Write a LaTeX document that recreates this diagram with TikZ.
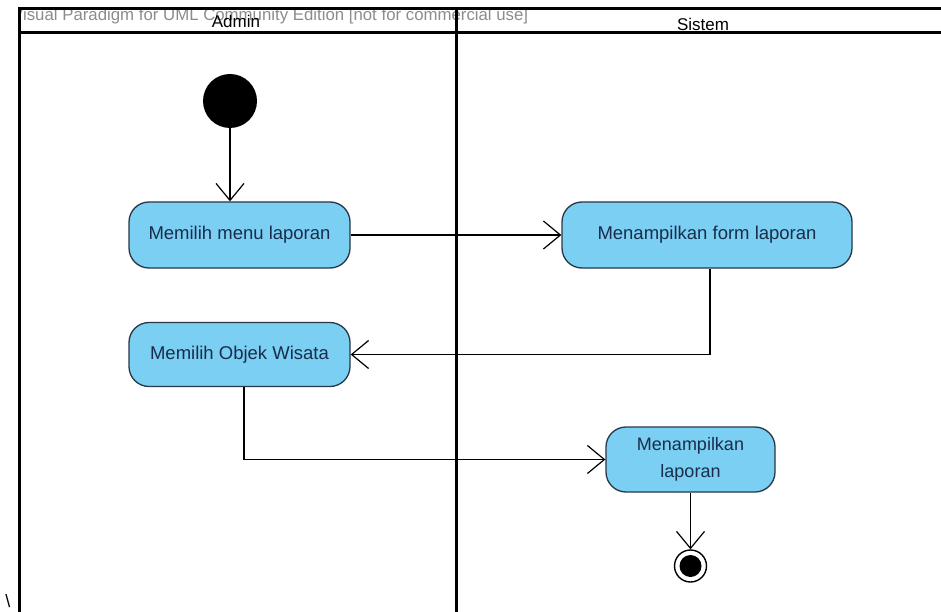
\documentclass[tikz,border=0pt]{standalone}
\usepackage{fontspec}
\setmainfont{Liberation Sans}
\usetikzlibrary{arrows.meta}
\definecolor{actfill}{RGB}{122,207,243}
\definecolor{actdraw}{RGB}{40,55,70}
\definecolor{acttext}{RGB}{25,45,75}
\definecolor{wmark}{RGB}{140,140,140}
\tikzset{
  act/.style={draw=actdraw, line width=1.3pt, fill=actfill, rounded corners=20pt,
    text=acttext, font=\fontsize{18.5}{22}\selectfont, inner sep=0pt, align=center},
  flow/.style={draw=black, line width=1.2pt, -{Straight Barb[length=17pt,width=28pt,line width=1.2pt]}},
  lane/.style={line width=3pt, draw=black},
}
\begin{document}
\begin{tikzpicture}[x=1pt,y=-1pt]
\useasboundingbox (0,0) rectangle (941,612);
% watermark
\begin{scope}
\clip (19,0) rectangle (941,40);
\node[anchor=base west, text=wmark, font=\fontsize{16.8}{19}\selectfont, inner sep=0pt] (wm) at (12,21) {Visual Paradigm for UML Community Edition [not for commercial use]};
\end{scope}
% swimlanes
\draw[lane] (19,612) -- (19,9) -- (941,9);
\draw[lane] (19,33) -- (941,33);
\draw[lane] (456,9) -- (456,612);
\node[font=\fontsize{17}{19}\selectfont, inner sep=0pt] (admin) at (236,21) {Admin};
\node[font=\fontsize{17}{19}\selectfont, inner sep=0pt] (sistem) at (703,24) {Sistem};
% nodes
\node[circle, fill=black, minimum size=54pt, inner sep=0pt] (init) at (230,101) {};
\node[act, minimum width=221pt, minimum height=66pt] (a1) at (239.5,235) {Memilih menu laporan};
\node[act, minimum width=290pt, minimum height=66pt] (a2) at (707,235) {Menampilkan form laporan};
\node[act, minimum width=221pt, minimum height=64pt] (a3) at (239.5,354.5) {Memilih Objek Wisata};
\node[act, minimum width=169pt, minimum height=65pt, font=\fontsize{18}{27}\selectfont] (a4) at (690.5,459.5) {Menampilkan\\laporan};
\node[circle, draw=black, line width=1.4pt, fill=white, minimum size=32pt, inner sep=0pt] (fin) at (690.5,566) {};
\node[circle, fill=black, minimum size=22pt, inner sep=0pt] at (fin) {};
\node[anchor=center, font=\fontsize{18}{20}\selectfont, inner sep=0pt] (bs) at (8,601) {\textbackslash};
% flows
\draw[flow] (init) -- (init|-a1.north);
\draw[flow] (a1) -- (a2);
\draw[flow] (a2.south-|710,0) |- (a3.east);
\draw[flow] (a3.south-|244,0) |- (a4.west);
\draw[flow] (a4) -- (fin);
\end{tikzpicture}
\end{document}
